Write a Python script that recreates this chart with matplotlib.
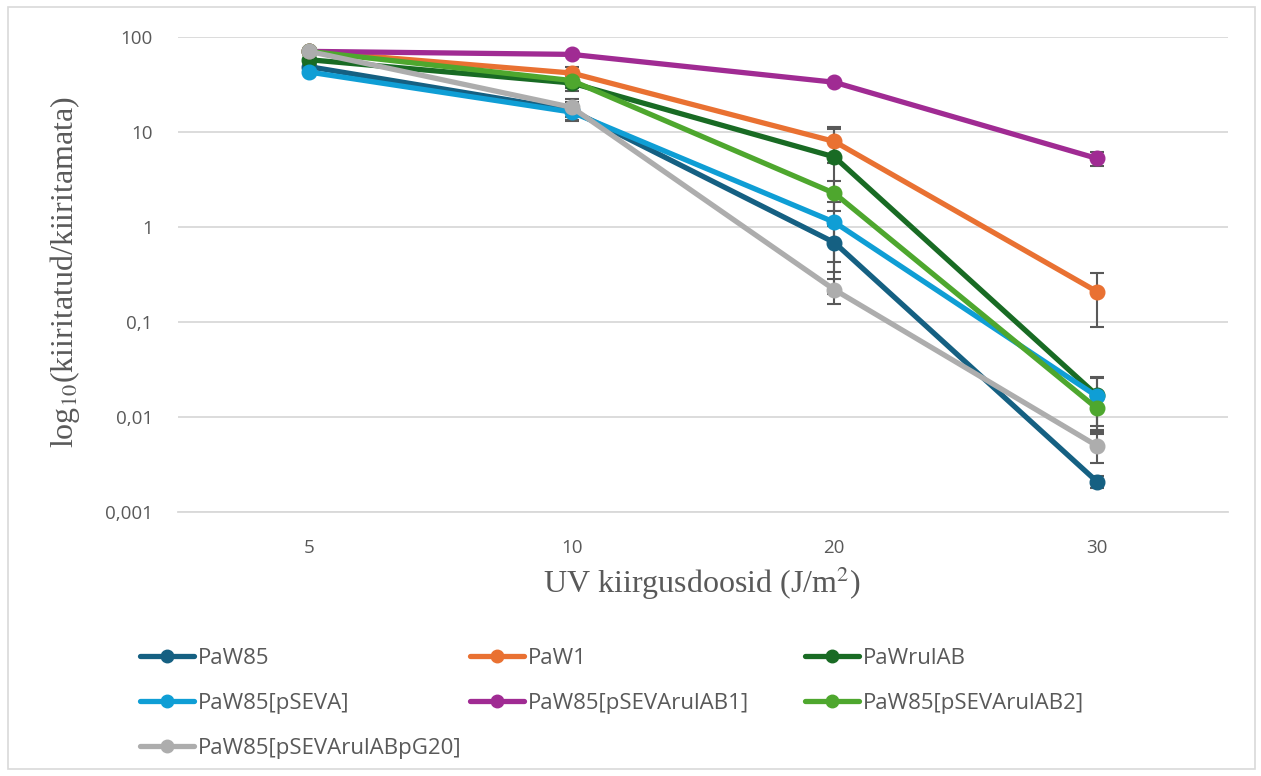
import numpy as np
import matplotlib.pyplot as plt
from matplotlib.patches import Rectangle
from matplotlib.lines import Line2D

doses = ['5', '10', '20', '30']

names = ['PaW85', 'PaW1', 'PaWrulAB', 'PaW85[pSEVA]',
         'PaW85[pSEVArulAB1]', 'PaW85[pSEVArulAB2]', 'PaW85[pSEVArulABpG20]']
colors = ['#156082', '#E97132', '#196B24', '#0F9ED5',
          '#A02B93', '#4EA72E', '#ADADAD']

paw85 = [49, 17, 0.69, 0.0021]
paw1 = [71, 42, 8.0, 0.21]
pawrulab = [58, 33, 5.5, 0.017]
pseva = [43, 16.3, 1.13, 0.0166]
pseva_ab1 = [71, 66, 33.6, 5.3]
pseva_ab2 = [71, 35, 2.28, 0.0124]
pseva_g20 = [71, 18.3, 0.22, 0.005]

paw85_err = [0, 4, 0.35, 0.0003]
paw1_err = [0, 7, 3.3, 0.12]
pawrulab_err = [0, 6, 5.3, 0.009]
pseva_err = [0, 3, 0.7, 0.0097]
pseva_ab1_err = [0, 0, 1, 0.9]
pseva_ab2_err = [0, 6, 0.8, 0.005]
pseva_g20_err = [0, 4, 0.065, 0.0017]

values = [paw85, paw1, pawrulab, pseva, pseva_ab1, pseva_ab2, pseva_g20]
errors = [paw85_err, paw1_err, pawrulab_err, pseva_err,
          pseva_ab1_err, pseva_ab2_err, pseva_g20_err]

yticks = [0.001, 0.01, 0.1, 1, 10, 100]
ytick_labels = ['0,001', '0,01', '0,1', '1', '10', '100']

plt.rcParams['font.family'] = ['Open Sans', 'DejaVu Sans']
plt.rcParams['mathtext.fontset'] = 'stix'

fig = plt.figure(figsize=(12.61, 7.76), dpi=100)
ax = fig.add_axes([0.141, 0.340, 0.833, 0.612])

x = np.arange(len(doses))
for vals, errs, c, name in zip(values, errors, colors, names):
    ax.plot(x, vals, color=c, lw=3.8, marker='o', ms=10.5, zorder=3,
            solid_capstyle='round', label=name)
    errs = np.array(errs, dtype=float)
    mask = errs > 0
    ax.errorbar(x[mask], np.array(vals)[mask], yerr=errs[mask], fmt='none',
                ecolor='#595959', elinewidth=1.5, capsize=5, capthick=1.5,
                zorder=2.5)

ax.set_yscale('log')
ax.set_ylim(0.001, 100)
ax.set_xlim(-0.5, 3.5)
ax.set_yticks(yticks)
ax.set_yticklabels(ytick_labels)
ax.yaxis.set_minor_locator(plt.NullLocator())
ax.set_xticks(x)
ax.set_xticklabels(doses)
ax.tick_params(length=0, labelsize=13.5, labelcolor='#595959')
ax.tick_params(axis='y', pad=18)
ax.tick_params(axis='x', pad=19)
ax.grid(axis='y', color='#D9D9D9', lw=1.3)
ax.set_axisbelow(True)
for s in ['top', 'right', 'left']:
    ax.spines[s].set_visible(False)
ax.spines['bottom'].set_color('#D9D9D9')
ax.spines['bottom'].set_linewidth(1.3)

fig.text(65 / 1261, 1 - 272 / 776, 'log$_{10}$(kiiritatud/kiiritamata)',
         family='Liberation Serif', fontsize=23, color='#595959',
         rotation=90, ha='center', va='center')
fig.text(702 / 1261, 1 - 583 / 776, 'UV kiirgusdoosid (J/m$^2$)',
         family='Liberation Serif', fontsize=23, color='#595959',
         ha='center', va='center')

# legend: three columns placed by hand
columns = [[0, 3, 6], [1, 4], [2, 5]]
col_x = [140 / 1261, 470 / 1261, 805 / 1261]
for cols, cx in zip(columns, col_x):
    handles = [Line2D([], [], color=colors[i], lw=3.8, marker='o', ms=9,
                      solid_capstyle='round') for i in cols]
    fig.legend(handles, [names[i] for i in cols], loc='upper left',
               bbox_to_anchor=(cx, 1 - 648 / 776), frameon=False,
               borderpad=0, borderaxespad=0,
               fontsize=16, handlelength=2.43, handletextpad=0.18,
               labelspacing=1.08, labelcolor='#595959', numpoints=1)

fig.patches.append(Rectangle((0.006, 0.009), 0.989, 0.982, transform=fig.transFigure,
                             fill=False, edgecolor='#D9D9D9', lw=1.2))

fig.savefig('out.png', dpi=100)
